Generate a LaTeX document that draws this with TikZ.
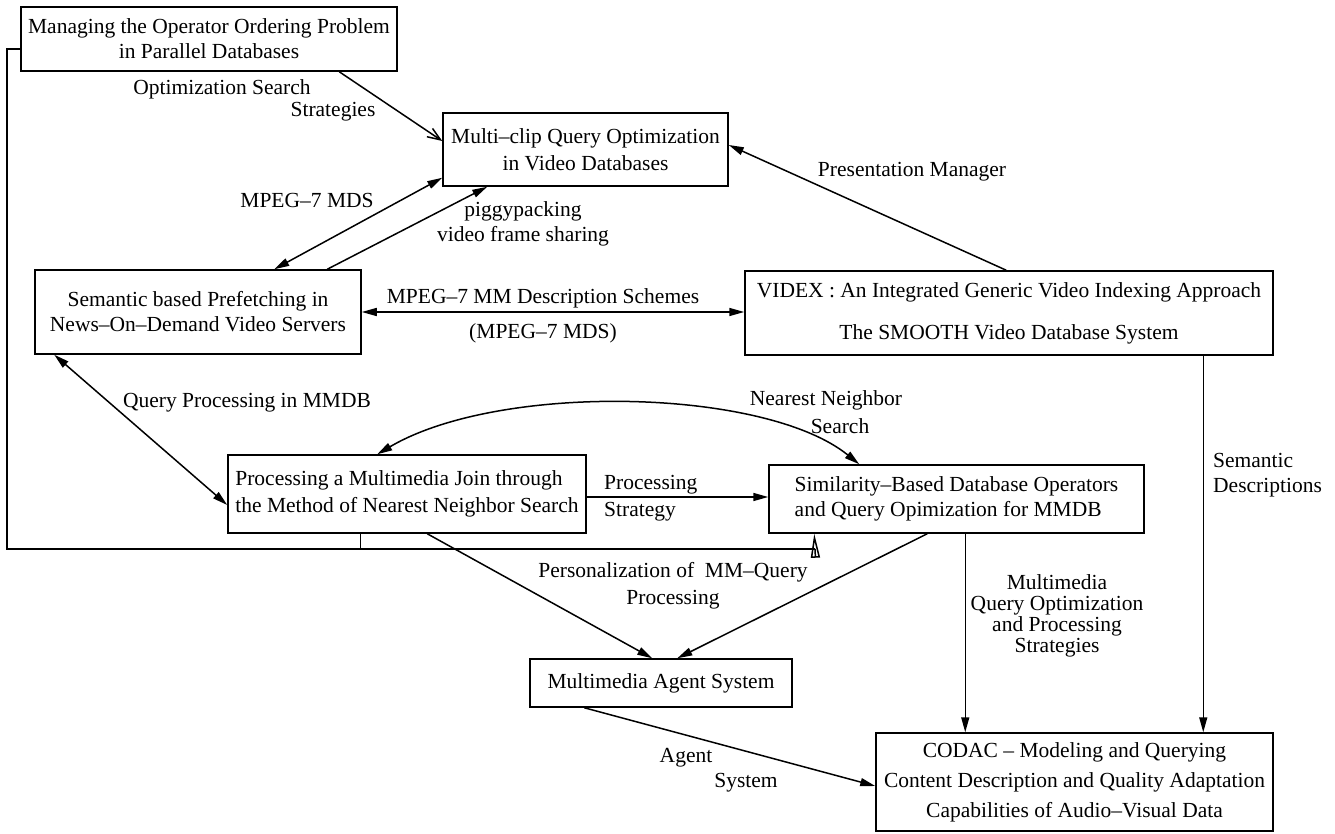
\documentclass[tikz,border=0pt]{standalone}
\usepackage{fontspec}
\setmainfont{Liberation Serif}
\usetikzlibrary{arrows.meta,calc}
\begin{document}
\begin{tikzpicture}[x=1pt,y=-1pt,
  every node/.style={font=\fontsize{21.5pt}{27pt}\selectfont, inner sep=0pt},
  box/.style={draw, line width=1.5pt, align=center},
  lbl/.style={align=center},
  tight/.style={font=\fontsize{21.5pt}{21pt}\selectfont},
  mid/.style={font=\fontsize{21.5pt}{25pt}\selectfont},
  conn/.style={line width=1.5pt},
  arr/.style={conn, -{Triangle[length=15pt,width=8pt]}},
  darr/.style={conn, {Triangle[length=15pt,width=8pt]}-{Triangle[length=15pt,width=8pt]}},
  oarr/.style={conn, -{Straight Barb[length=13pt,width=10pt]}},
  farr/.style={conn, -{Triangle[open,length=24pt,width=9pt]}},
]
\useasboundingbox (0,0) rectangle (1335,834);

% boxes
\node[box, mid, minimum width=376pt, minimum height=64pt] (A) at (209,39) {Managing the Operator Ordering Problem\\in Parallel Databases};
\node[box, minimum width=285pt, minimum height=73pt] (B) at (585.5,149.5) {Multi--clip Query Optimization\\in Video Databases};
\node[box, mid, minimum width=326pt, minimum height=84pt] (C) at (198,312) {Semantic based Prefetching in\\News--On--Demand Video Servers};
\node[box, mid, minimum width=528pt, minimum height=84pt] (D) at (1009,313) {VIDEX : An Integrated Generic Video Indexing Approach\\[17pt]The SMOOTH Video Database System};
\node[box, align=left, minimum width=358pt, minimum height=78pt] (E) at (407,494) {Processing a Multimedia Join through\\the Method of Nearest Neighbor Search};
\node[box, align=left, mid, minimum width=375pt, minimum height=68pt] (F) at (956.5,499) {Similarity--Based Database Operators\\and Query Opimization for MMDB};
\node[box, minimum width=262pt, minimum height=48pt] (G) at (661,683) {Multimedia Agent System};
\node[box, minimum width=397pt, minimum height=98pt] (H) at (1074.5,782) {CODAC -- Modeling and Querying\\[3pt]Content Description and Quality Adaptation\\[3pt]Capabilities of Audio--Visual Data};

% labels
\node (l1a) at (222,89) {Optimization Search};
\node (l1b) at (333,112) {Strategies};
\node (l2) at (307,200) {MPEG--7 MDS};
\node[lbl, mid] (l3) at (523,224) {piggypacking\\video frame sharing};
\node (l4a) at (543,298) {MPEG--7 MM Description Schemes};
\node (l4b) at (543,333) {(MPEG--7 MDS)};
\node (l5) at (912,172) {Presentation Manager};
\node (l6) at (247,403) {Query Processing in MMDB};
\node[align=left, anchor=west] (l7) at (604,498) {Processing\\Strategy};
\node (l8a) at (826,400) {Nearest Neighbor};
\node (l8b) at (840,426) {Search};
\node[lbl] (l9) at (673,586) {Personalization of\ \ MM--Query\\Processing};
\node[lbl, tight] (l10) at (1057,616) {Multimedia\\Query Optimization\\and Processing\\Strategies};
\node[align=left, anchor=west, mid] (l11) at (1213,475) {Semantic\\Descriptions};
\node (l12a) at (686,758) {Agent};
\node (l12b) at (746,783) {System};

% connectors
\draw[oarr] ([xshift=319pt]A.south west) -- ([yshift=8.5pt]B.west);
\draw[darr] ([yshift=9pt]B.south west) -- ([xshift=240pt]C.north west);
\draw[arr] ([xshift=293pt]C.north west) -- ([xshift=45pt]B.south west);
\draw[darr] (C.east) -- (C.east -| D.west);
\draw[arr] ([xshift=262pt]D.north west) -- ([yshift=4.5pt]B.east);
\draw[darr] ([xshift=20pt]C.south west) -- ([yshift=-11pt]E.west);
\draw[arr] ([yshift=-3pt]E.east) -- ([yshift=2pt]F.west);
\draw[darr] ([xshift=150pt]E.north west) .. controls (500,382) and (765,388) .. ([xshift=91pt]F.north west);
\draw[arr] ([xshift=200pt]E.south west) -- ([xshift=123pt]G.north west);
\draw[arr] ([xshift=159pt]F.south west) -- ([xshift=148pt]G.north west);
\draw[arr] ([xshift=197pt]F.south west) -- ([xshift=90pt]H.north west);
\draw[arr] ([xshift=459pt]D.south west) -- ([xshift=328pt]H.north west);
\draw[arr] ([xshift=55pt]G.south west) -- ([yshift=-4pt]H.west);

% feedback line
\coordinate (fbl) at (7,549);
\coordinate (fbr) at (815,549);
\coordinate (et) at ([xshift=133pt]E.south west);
\draw[conn] ([yshift=-10pt]A.west) -| (fbl) -- (fbr);
\draw[farr] (fbr) -- ([xshift=46pt]F.south west);
\draw[conn] (et) -- (et |- fbl);
\end{tikzpicture}
\end{document}
